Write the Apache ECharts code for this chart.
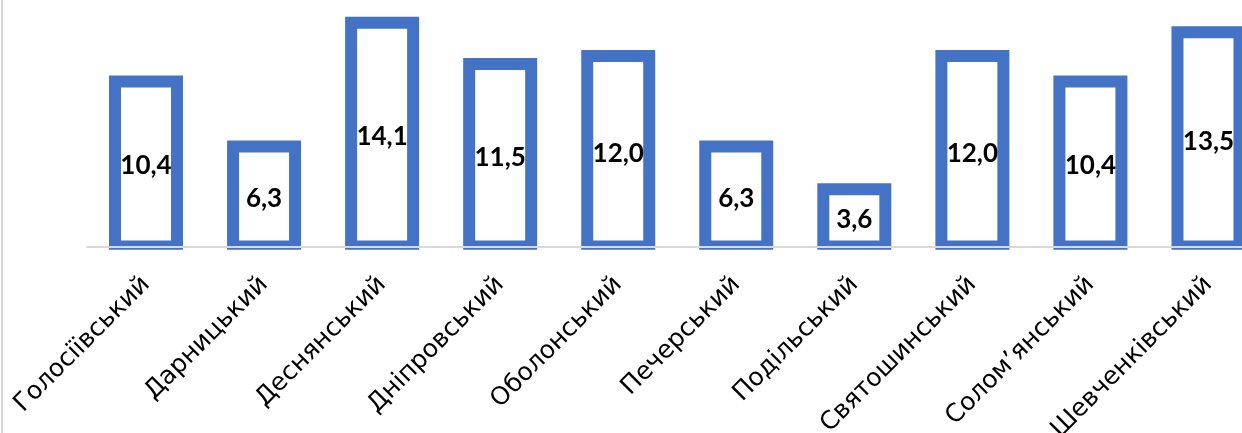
<!DOCTYPE html>
<html>
<head>
<meta charset="utf-8">
<script src="https://cdn.jsdelivr.net/npm/echarts@6/dist/echarts.min.js"></script>
<style>
html,body{margin:0;padding:0;background:#fff;}
#chart{position:absolute;left:0;top:0;width:1242px;height:433px;}
#edge{position:absolute;left:1px;top:0;width:2px;height:433px;background:#d9d9d9;}
</style>
</head>
<body>
<div id="chart"></div>
<div id="edge"></div>
<script>
const categories = ['Голосіївський','Дарницький','Деснянський','Дніпровський','Оболонський','Печерський','Подільський','Святошинський','Солом’янський','Шевченківський'];
const values = [10.4, 6.3, 14.1, 11.5, 12.0, 6.3, 3.6, 12.0, 10.4, 13.5];

const BAR_W = 62;
const chart = echarts.init(document.getElementById('chart'));
chart.setOption({
  animation: false,
  grid: {left: 87, width: 1180.5, top: 8.4, bottom: 183.3, containLabel: false, outerBoundsMode: 'none'},
  xAxis: {
    type: 'category',
    data: categories,
    z: 3,
    axisLine: {show: true, onZero: true, lineStyle: {color: '#d9d9d9', width: 2}},
    axisTick: {show: false},
    axisLabel: {
      rotate: 45, interval: 0, margin: 31,
      fontFamily: 'DejaVu Sans', fontSize: 25, color: '#000'
    }
  },
  yAxis: {
    type: 'value', min: -0.208, max: 15,
    show: false,
    splitLine: {show: false}
  },
  series: [{
    type: 'custom',
    clip: true,
    data: categories.map((c, i) => [i, values[i]]),
    encode: {x: 0, y: 1},
    renderItem: (params, api) => {
      const idx = api.value(0);
      const v = api.value(1);
      const top = api.coord([idx, v]);
      const base = api.coord([idx, 0]);
      const h = base[1] - top[1];
      return {
        type: 'group',
        children: [{
          type: 'rect',
          shape: {x: top[0] - BAR_W / 2, y: top[1], width: BAR_W, height: h},
          style: {fill: '#ffffff', stroke: '#4472C4', lineWidth: 12}
        }, {
          type: 'text',
          x: top[0], y: top[1] + h / 2 + 2,
          style: {
            text: v.toFixed(1).replace('.', ','),
            font: 'bold 26px Lato',
            fill: '#000', align: 'center', verticalAlign: 'middle'
          }
        }]
      };
    }
  }]
});
</script>
</body>
</html>
